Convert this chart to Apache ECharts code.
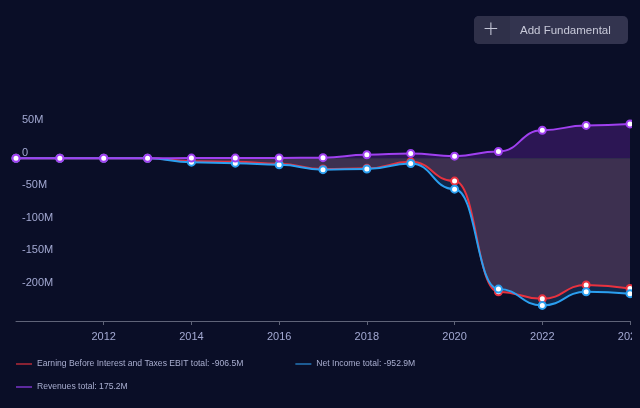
<!DOCTYPE html>
<html>
<head>
<meta charset="utf-8">
<script src="https://cdn.jsdelivr.net/npm/echarts@6/dist/echarts.min.js"></script>
<style>
html,body{margin:0;padding:0;background:#0a0e27;}
#c{width:632px;height:408px;overflow:hidden;}
</style>
</head>
<body>
<div id="c"></div>
<script>
const years = [2010,2011,2012,2013,2014,2015,2016,2017,2018,2019,2020,2021,2022,2023,2024];
const ebit = [0,0,0,0,-4.5,-5.5,-8.5,-16.5,-15.5,-5.5,-35,-205,-216,-194.5,-200];
const netIncome = [0,0,0,0,-6,-7.5,-10,-17.5,-16.5,-8,-47.4,-201,-226,-205,-208];
const revenues = [0,0,0,0,0.3,0.3,0.5,1,5.5,7.5,3.3,10.5,43,50.5,52.8];
const yTicks = [-250,-200,-150,-100,-50,0,50,100];

const NAME_EBIT = 'Earning Before Interest and Taxes EBIT';
const NAME_NI = 'Net Income';
const NAME_REV = 'Revenues';
const C_EBIT = '#e8323f', C_NI = '#2b9ff0', C_REV = '#a040f0';

function pts(arr){ return years.map((y,i)=>[y, arr[i]*1e6]); }
function total(arr){ return (arr.reduce((a,b)=>a+b,0)).toFixed(1)+'M'; }
const totals = {}; totals[NAME_EBIT]=total(ebit); totals[NAME_NI]=total(netIncome); totals[NAME_REV]=total(revenues);

function lineSeries(name, arr, color, z){
  return {name, type:'line', data:pts(arr), smooth:0.5, smoothMonotone:'x', z,
    symbol:'circle', symbolSize:7, showSymbol:true,
    lineStyle:{color, width:2},
    itemStyle:{color:'#ffffff', borderColor:color, borderWidth:2},
    emphasis:{disabled:true}, animation:false};
}
function areaSeries(name, arr, color, z){
  return {name, type:'line', data:pts(arr), smooth:0.5, smoothMonotone:'x', z,
    symbol:'none', lineStyle:{width:0, opacity:0},
    areaStyle:{color, opacity:1, origin:0},
    emphasis:{disabled:true}, animation:false, silent:true};
}
function legendIcon(color){ return {color, borderWidth:0, borderColor:'transparent'}; }
const legendText = {color:'#a9aed0', fontSize:8.6, fontFamily:'Liberation Sans'};
const chart = echarts.init(document.getElementById('c'), null, {renderer:'canvas'});
chart.setOption({
  backgroundColor:'#0a0e27',
  animation:false,
  grid:{left:16, right:2, top:93.2, bottom:87, outerBoundsMode:'none', containLabel:false},
  xAxis:{type:'value', min:2010, max:2024, interval:2,
    axisLine:{show:true, onZero:false, lineStyle:{color:'#5f6378', width:1}},
    axisTick:{show:true, length:4, lineStyle:{color:'#5f6378'}},
    splitLine:{show:false},
    axisLabel:{color:'#a3a9d2', fontSize:11, fontFamily:'Liberation Sans', margin:10, showMinLabel:false, hideOverlap:false, formatter:v=>String(v)}},
  yAxis:{type:'value', min:yTicks[0]*1e6, max:yTicks[yTicks.length-1]*1e6, interval:50e6,
    axisLine:{show:false}, axisTick:{show:false}, splitLine:{show:false},
    axisLabel:{inside:true, margin:6, color:'#a3a9d2', fontSize:11, fontFamily:'Liberation Sans', verticalAlign:'bottom',
      showMinLabel:false, showMaxLabel:false,
      formatter:v=> v===0 ? '0' : (v/1e6)+'M'}},
  legend:[
    {left:16, top:359.5, padding:0, orient:'horizontal', itemGap:52, icon:'rect', itemWidth:16, itemHeight:1.5,
     textStyle:legendText, selectedMode:false,
     data:[{name:NAME_EBIT, itemStyle:legendIcon('#b32a38'), lineStyle:{width:0}}, {name:NAME_NI, itemStyle:legendIcon('#2476b8'), lineStyle:{width:0}}],
     formatter:n=> n+' total: '+totals[n]},
    {left:16, top:382.5, padding:0, orient:'horizontal', icon:'rect', itemWidth:16, itemHeight:1.5,
     textStyle:legendText, selectedMode:false,
     data:[{name:NAME_REV, itemStyle:legendIcon('#7a34c8'), lineStyle:{width:0}}],
     formatter:n=> n+' total: '+totals[n]}
  ],
  graphic:[
    {type:'rect', left:474, top:16, shape:{width:154, height:28, r:5}, style:{fill:'#33344f'}, z:10},
    {type:'rect', left:474, top:16, shape:{width:36, height:28, r:[5,0,0,5]}, style:{fill:'#2f3049'}, z:11},
    {type:'text', x:491, y:30, style:{text:'+', fill:'#c4c6d6', fontSize:20, fontFamily:'DejaVu Sans', fontWeight:200, align:'center', verticalAlign:'middle'}, z:12},
    {type:'text', x:520, y:30.5, style:{text:'Add Fundamental', fill:'#c8c9d9', fontSize:11.5, fontFamily:'Liberation Sans', verticalAlign:'middle'}, z:12}
  ],
  series:[
    areaSeries('revArea', revenues, '#2c1654', 1),
    areaSeries('niArea', netIncome, '#10284b', 1),
    areaSeries('ebitArea', ebit, '#3d3050', 1),
    lineSeries(NAME_EBIT, ebit, C_EBIT, 5),
    lineSeries(NAME_NI, netIncome, C_NI, 6),
    lineSeries(NAME_REV, revenues, C_REV, 7)
  ]
});
</script>
</body>
</html>
